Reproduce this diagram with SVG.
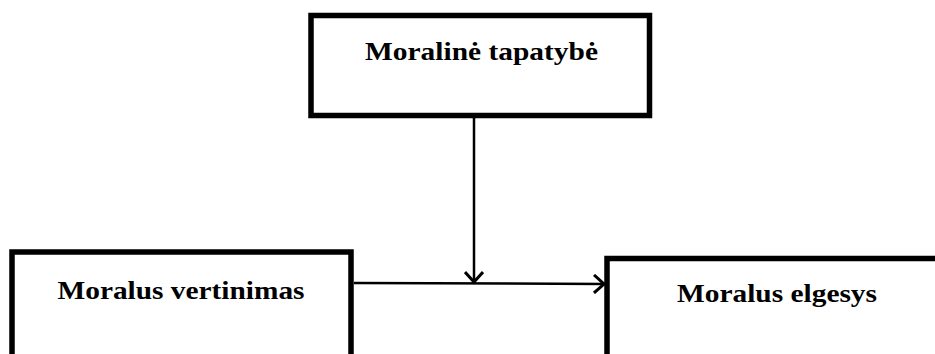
<svg xmlns="http://www.w3.org/2000/svg" width="935" height="354" viewBox="0 0 935 354">
  <style>
    .box { fill: #ffffff; stroke: #000000; stroke-width: 5.5; }
    .label { font-family: "Liberation Serif", "Times New Roman", serif; font-weight: bold; font-size: 26px; fill: #000000; text-anchor: middle; }
    .link { fill: none; stroke: #000000; stroke-width: 2.5; }
  </style>
  <defs>
    <marker id="open-arrow" viewBox="0 0 20 20" refX="18" refY="10" markerWidth="20" markerHeight="20" markerUnits="userSpaceOnUse" orient="auto">
      <path d="M 8 1 L 18 10 L 8 19" fill="none" stroke="#000000" stroke-width="3"/>
    </marker>
  </defs>

  <rect width="935" height="354" fill="#ffffff"/>

  <g id="node-identity">
    <rect class="box" x="311" y="15.5" width="338.5" height="100"/>
    <text class="label" x="481.5" y="59.5" textLength="233" lengthAdjust="spacingAndGlyphs">Moralinė tapatybė</text>
  </g>

  <g id="node-judgment">
    <rect class="box" x="12" y="252" width="339" height="120"/>
    <text class="label" x="181" y="299" textLength="247" lengthAdjust="spacingAndGlyphs">Moralus vertinimas</text>
  </g>

  <g id="node-behavior">
    <rect class="box" x="607" y="258.5" width="340" height="120"/>
    <text class="label" x="777" y="301.5" textLength="200" lengthAdjust="spacingAndGlyphs">Moralus elgesys</text>
  </g>

  <g id="connectors">
    <line class="link" x1="354" y1="283" x2="604" y2="284" marker-end="url(#open-arrow)"/>
    <line class="link" x1="474" y1="118" x2="474" y2="282" marker-end="url(#open-arrow)"/>
  </g>
</svg>
